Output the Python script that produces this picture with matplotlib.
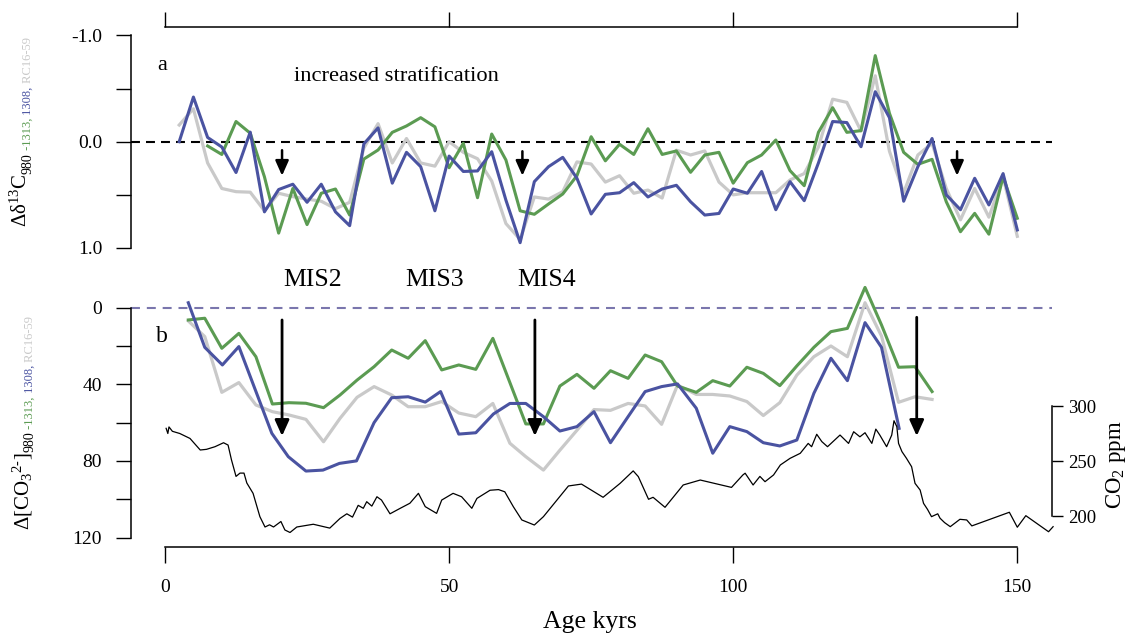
import matplotlib
matplotlib.use('Agg')
import matplotlib.pyplot as plt
import numpy as np

plt.rcParams['font.family'] = ['Liberation Serif', 'DejaVu Serif']
plt.rcParams['mathtext.fontset'] = 'custom'
plt.rcParams['mathtext.rm'] = 'Liberation Serif'
plt.rcParams['mathtext.it'] = 'Liberation Serif:italic'
plt.rcParams['mathtext.bf'] = 'Liberation Serif:bold'

GREEN = '#5b9b52'
BLUE = '#4a53a1'
GREY = '#c9c9c9'
LAV = '#7a76ad'

# ---- panel a: delta 13C difference (per mil), 2.5 kyr steps
age_a = [2.5, 5, 7.5, 10, 12.5, 15, 17.5, 20, 22.5, 25, 27.5, 30, 32.5, 35, 37.5,
         40, 42.5, 45, 47.5, 50, 52.5, 55, 57.5, 60, 62.5, 65, 67.5, 70, 72.5, 75,
         77.5, 80, 82.5, 85, 87.5, 90, 92.5, 95, 97.5, 100, 102.5, 105, 107.5, 110,
         112.5, 115, 117.5, 120, 122.5, 125, 127.5, 130, 132.5, 135, 137.5, 140,
         142.5, 145, 147.5, 150]
d13c_1308 = [0.0, -0.42, -0.04, 0.05, 0.29, -0.09, 0.66, 0.45, 0.40, 0.57, 0.40, 0.66,
             0.79, 0.02, -0.13, 0.39, 0.10, 0.235, 0.65, 0.135, 0.28, 0.275, 0.094, 0.55,
             0.95, 0.376, 0.235, 0.147, 0.344, 0.68, 0.495, 0.48, 0.385, 0.52, 0.445,
             0.41, 0.565, 0.69, 0.675, 0.445, 0.485, 0.28, 0.64, 0.376, 0.555, 0.2,
             -0.19, -0.18, 0.047, -0.47, -0.226, 0.56, 0.235, -0.03, 0.5, 0.64, 0.344,
             0.595, 0.3, 0.83]
d13c_rc = [-0.157, -0.31, 0.2, 0.44, 0.47, 0.475, 0.65, 0.485, 0.517, 0.54, 0.56, 0.63,
           0.57, 0.06, -0.17, 0.2, -0.03, 0.2, 0.23, 0.0, 0.1, 0.16, 0.37, 0.77, 0.92,
           0.52, 0.54, 0.47, 0.19, 0.21, 0.38, 0.32, 0.485, 0.455, 0.53, 0.08, 0.125,
           0.087, 0.38, 0.5, 0.48, 0.48, 0.48, 0.36, 0.3, 0.05, -0.4, -0.37, -0.1, -0.62,
           0.09, 0.48, 0.125, 0.015, 0.44, 0.735, 0.44, 0.71, 0.33, 0.89]
age_a_1313 = age_a[2:]
d13c_1313 = [0.04, 0.12, -0.19, -0.08, 0.33, 0.86, 0.44, 0.78, 0.485, 0.445, 0.69, 0.163,
             0.078, -0.088, -0.148, -0.226, -0.14, 0.245, 0.015, 0.527, -0.072, 0.172,
             0.65, 0.683, 0.586, 0.492, 0.32, -0.047, 0.18, 0.024, 0.12, -0.122, 0.12,
             0.087, 0.288, 0.125, 0.1, 0.39, 0.197, 0.125, -0.016, 0.272, 0.414, -0.088,
             -0.32, -0.088, -0.104, -0.81, -0.267, 0.1, 0.213, 0.166, 0.565, 0.847,
             0.674, 0.87, 0.33, 0.72]

# ---- panel b: carbonate ion difference (umol/kg)
age_b = [4.1, 7.0, 10.0, 13.0, 16.0, 18.9, 21.8, 24.8, 27.9, 30.8, 33.8, 36.8, 39.9,
         42.8, 45.8, 48.7, 51.7, 54.7, 57.7, 60.7, 63.5, 66.6, 69.5, 72.5, 75.5, 78.4,
         81.5, 84.5, 87.4, 90.2, 93.5, 96.4, 99.4, 102.4, 105.3, 108.2, 111.2, 114.2,
         117.2, 120.1, 123.2, 126.1, 129.1, 132.0, 135.0]
co3_rc = [6.9, 15.1, 44.2, 39.1, 50.8, 54.3, 56, 58.3, 70, 57.8, 46.8, 41.2, 45.6, 51.7,
          51.7, 49, 55, 56.9, 50, 70.8, 77.8, 84.8, 74.4, 64, 53.2, 53.6, 50, 51.3, 60.9,
          40.4, 45.3, 45.3, 46.1, 49, 56.3, 49.6, 35.2, 25.6, 20, 25.6, -2.6, 14.8, 49.4,
          46.5, 47.9]
age_b_1313 = age_b[:19] + age_b[20:]
co3_1313 = [6.4, 5.5, 21.2, 13.4, 25.6, 50.3, 49.6, 49.9, 52.2, 45.6, 37.8, 30.8, 22.1,
            26.4, 17.2, 32.5, 29.9, 32.2, 16, 60.7, 60.7, 40.9, 34.8, 42.1, 32.9, 36.9,
            24.7, 28.2, 40.9, 44.2, 38.1, 40.9, 31.1, 34.3, 40.7, 30.4, 20.7, 12.5, 10.8,
            -10.6, 9.0, 31.1, 30.8, 43.8]
age_b_1308 = [4.1, 7.0, 10.1, 13.0, 18.8, 21.7, 24.8, 27.8, 30.7, 33.7, 36.8, 39.9, 42.8,
              45.8, 48.5, 51.7, 54.7, 57.8, 60.7, 63.5, 66.6, 69.5, 72.5, 75.5, 78.4,
              81.5, 84.5, 87.4, 90.2, 93.5, 96.4, 99.4, 102.4, 105.3, 108.2, 111.2,
              114.2, 117.2, 120.1, 123.2, 126.1, 129.2]
co3_1308 = [-2.6, 20.7, 29.9, 20.3, 65.6, 77.8, 85.3, 84.8, 81.3, 80, 60, 47, 46.5, 49.3,
            43.8, 66, 65.3, 55.5, 50, 50, 56.9, 64.4, 62.1, 54.3, 70.5, 56.9, 43.8, 41.2,
            39.8, 52.5, 76, 62.1, 64.7, 70.5, 72.2, 69.1, 44.7, 26.4, 38.1, 7.8, 20.7, 63]

# ---- ice core CO2 (ppm)
age_co2 = [0.2, 0.5, 0.7, 1.3, 2.6, 4.4, 6.2, 7.3, 8.8, 10.3, 11.1, 11.7, 12.5, 13.2,
           13.9, 14.4, 15.5, 16.7, 17.6, 18.4, 19.1, 20.4, 21.1, 22.0, 23.2, 26.1, 29.0,
           30.8, 32.0, 33.0, 34.0, 34.9, 35.5, 36.4, 37.3, 38.1, 39.6, 41.4, 43.1, 44.6,
           45.8, 47.8, 48.7, 50.7, 52.2, 54.0, 54.9, 57.2, 58.7, 59.8, 61.3, 62.8, 65.0,
           66.6, 71.0, 73.3, 77.1, 80.1, 82.4, 83.3, 85.1, 85.9, 88.0, 91.2, 94.2, 99.7,
           101.7, 102.1, 103.5, 104.7, 105.6, 107.1, 108.3, 110.0, 111.8, 113.2, 113.8,
           114.7, 115.6, 116.6, 118.8, 120.3, 121.2, 122.3, 123.2, 124.4, 125.1, 125.8,
           127.0, 127.9, 128.3, 128.8, 129.1, 129.7, 130.5, 131.4, 132.0, 132.9, 133.5,
           134.2, 134.9, 136.0, 136.4, 137.2, 138.2, 139.9, 141.1, 142.0, 148.6, 150.0,
           151.5, 155.5, 156.3]
co2 = [279.7, 275, 281, 277, 275, 270.5, 260, 260.6, 263, 266.6, 264.5, 251, 236, 239,
       239, 230, 220.6, 199.4, 190, 192, 190, 195, 187.3, 185, 190, 192.5, 189, 197.8,
       202, 199, 209.7, 207, 213, 209, 217.5, 214.5, 202, 207, 211.6, 220.6, 208.5,
       202.4, 214.5, 220.6, 217.5, 207, 216, 223.4, 224, 222, 208.5, 196.4, 191.8,
       199.4, 227.3, 229, 217, 229.7, 241, 235.8, 215.2, 217, 207.9, 228.2, 232.7, 226,
       237.3, 238.9, 228.2, 236, 231.2, 237.3, 246.4, 252.4, 257, 266, 263, 274.3, 267.6,
       263, 273.6, 266, 276.6, 272, 275.7, 266, 279, 273.6, 263, 273.6, 286.6, 281.2,
       266, 258.5, 252.4, 244.8, 229.7, 223.6, 211.5, 206, 199.4, 202, 198, 194, 190.3,
       197, 196.4, 191, 203.4, 189.8, 200.3, 185.7, 190.3]

# arrows: (age, start, tip)
arrows_a = [(20.6, 0.08, 0.32), (62.9, 0.09, 0.32), (139.4, 0.09, 0.32)]
arrows_b = [(20.6, 6.4, 67), (65.1, 6.4, 67), (132.3, 5.0, 67)]
mis_labels = ['MIS2', 'MIS3', 'MIS4']
mis_age = [26.0, 47.5, 67.1]

# ---- layout (reference pixels)
W, H = 1127, 638
px0, ppk = 165.0, 852.3 / 150        # x=0 pixel, pixels per kyr
left_px, right_px = 131.0, 1051.7
xlim = ((left_px - px0) / ppk, (right_px - px0) / ppk)

fig = plt.figure(figsize=(W / 100, H / 100), dpi=100)

def add_ax(top, bot):
    return fig.add_axes([left_px / W, 1 - bot / H, (right_px - left_px) / W, (bot - top) / H])

# panel a: 0 at 141.7 px, 106.3 px per unit
a_top, a_bot = 27.0, 262.0
ax_a = add_ax(a_top, a_bot)
ax_a.set_xlim(*xlim)
ax_a.set_ylim((a_bot - 141.7) / 106.3, (a_top - 141.7) / 106.3)

# panel b: 0 at 307.7 px, 1.915 px per unit
b_top, b_bot = 275.0, 547.3
ax_b = add_ax(b_top, b_bot)
ax_b.set_xlim(*xlim)
ax_b.set_ylim((b_bot - 307.7) / 1.915, (b_top - 307.7) / 1.915)
ax_c = ax_b.twinx()
ax_c.set_xlim(*xlim)
ax_c.set_ylim(300 - (b_bot - 406) * 50 / 55, 300 - (b_top - 406) * 50 / 55)

for ax in (ax_a, ax_b, ax_c):
    ax.patch.set_visible(False)
    for s in ax.spines.values():
        s.set_visible(False)
        s.set_linewidth(1.1)
    ax.tick_params(width=1.0, labelsize=14)

# panel a lines
ax_a.plot(xlim, [0, 0], color='k', lw=1.5, ls=(0, (4.3, 2.9)))
ax_a.plot(age_a, d13c_rc, color=GREY, lw=2.3)
ax_a.plot(age_a_1313, d13c_1313, color=GREEN, lw=2.2)
ax_a.plot(age_a, d13c_1308, color=BLUE, lw=2.2)
ax_a.spines['left'].set_visible(True)
ax_a.spines['left'].set_bounds(-1, 1)
ax_a.spines['top'].set_visible(True)
ax_a.spines['top'].set_bounds(0, 150)
ax_a.set_yticks([-1, -0.5, 0, 0.5, 1])
ax_a.set_yticklabels(['-1.0', '', '0.0', '', '1.0'])
ax_a.tick_params(axis='y', direction='out', length=10.8, pad=10)
ax_a.xaxis.set_ticks_position('top')
ax_a.set_xticks([0, 50, 100, 150])
ax_a.tick_params(axis='x', direction='out', length=10.8, labeltop=False, labelbottom=False)

# panel b lines
ax_b.plot(xlim, [0, 0], color=LAV, lw=1.5, ls=(0, (4.3, 3.3)))
ax_b.plot(age_b, co3_rc, color=GREY, lw=2.3)
ax_b.plot(age_b_1313, co3_1313, color=GREEN, lw=2.2)
ax_b.plot(age_b_1308, co3_1308, color=BLUE, lw=2.2)
ax_b.spines['left'].set_visible(True)
ax_b.spines['left'].set_bounds(0, 120)
ax_b.spines['bottom'].set_visible(True)
ax_b.spines['bottom'].set_bounds(0, 150)
ax_b.set_yticks([0, 20, 40, 60, 80, 100, 120])
ax_b.set_yticklabels(['0', '', '40', '', '80', '', '120'])
ax_b.tick_params(axis='y', direction='out', length=10.8, pad=10)
ax_b.set_xticks([0, 50, 100, 150])
ax_b.tick_params(axis='x', direction='out', length=11.5, pad=11)

ax_c.plot(age_co2, co2, color='k', lw=0.9, clip_on=False)
ax_c.spines['right'].set_visible(True)
ax_c.spines['right'].set_bounds(200, 300)
ax_c.set_yticks([200, 250, 300])
ax_c.tick_params(axis='y', direction='out', length=8, pad=4, labelsize=13.5)
fig.text(1116 / W, 1 - 465 / H, 'CO$_2$ ppm', fontsize=16.5, rotation=90,
         ha='center', va='center')

# arrows
for x, y0, y1 in arrows_a:
    ax_a.annotate('', xy=(x, y1), xytext=(x, y0),
                  arrowprops=dict(arrowstyle='-|>,head_length=9,head_width=4', lw=1.8,
                                  color='k', mutation_scale=1, shrinkA=0, shrinkB=0))
for x, y0, y1 in arrows_b:
    ax_b.annotate('', xy=(x, y1), xytext=(x, y0),
                  arrowprops=dict(arrowstyle='-|>,head_length=9.5,head_width=4.3', lw=2.0,
                                  color='k', mutation_scale=1, shrinkA=0, shrinkB=0))

# texts
ax_a.text(-0.5, -0.72, 'a', fontsize=16, ha='center', va='center')
ax_a.text(40.8, -0.61, 'increased stratification', fontsize=16.2, ha='center', va='center')
ax_b.text(-0.5, 15.3, 'b', fontsize=17, ha='center', va='center')
for lab, x in zip(mis_labels, mis_age):
    ax_b.text(x, -14.5, lab, fontsize=18.5, ha='center', va='center', clip_on=False)
fig.text(590 / W, 1 - 622 / H, 'Age kyrs', fontsize=18.5, ha='center', va='center')

# multi-coloured y labels, built piece by piece along the rotated baseline
renderer = fig.canvas.get_renderer()

def stacked_label(x_px, y_top_px, pieces):
    y = H - y_top_px
    for s, col, fs, dx in pieces:
        t = fig.text((x_px + dx) / W, y / H, s, color=col, fontsize=fs, rotation=90,
                     rotation_mode='anchor', ha='left', va='baseline')
        y = t.get_window_extent(renderer).y1

stacked_label(27, 227, [('Δδ$^{13}$C', 'k', 15, 0), ('980', 'k', 10, 4),
                        (' -1313,', GREEN, 9, 4), (' 1308,', BLUE, 9, 4),
                        (' RC16-59', GREY, 9, 4)])
stacked_label(29, 530, [('Δ[CO$_3{}^{2\\text{-}}$]', 'k', 15, 0), ('980', 'k', 10, 4),
                        (' -1313,', GREEN, 9, 4), (' 1308,', BLUE, 9, 4),
                        (' RC16-59', GREY, 9, 4)])

fig.savefig('out.png', dpi=100)
